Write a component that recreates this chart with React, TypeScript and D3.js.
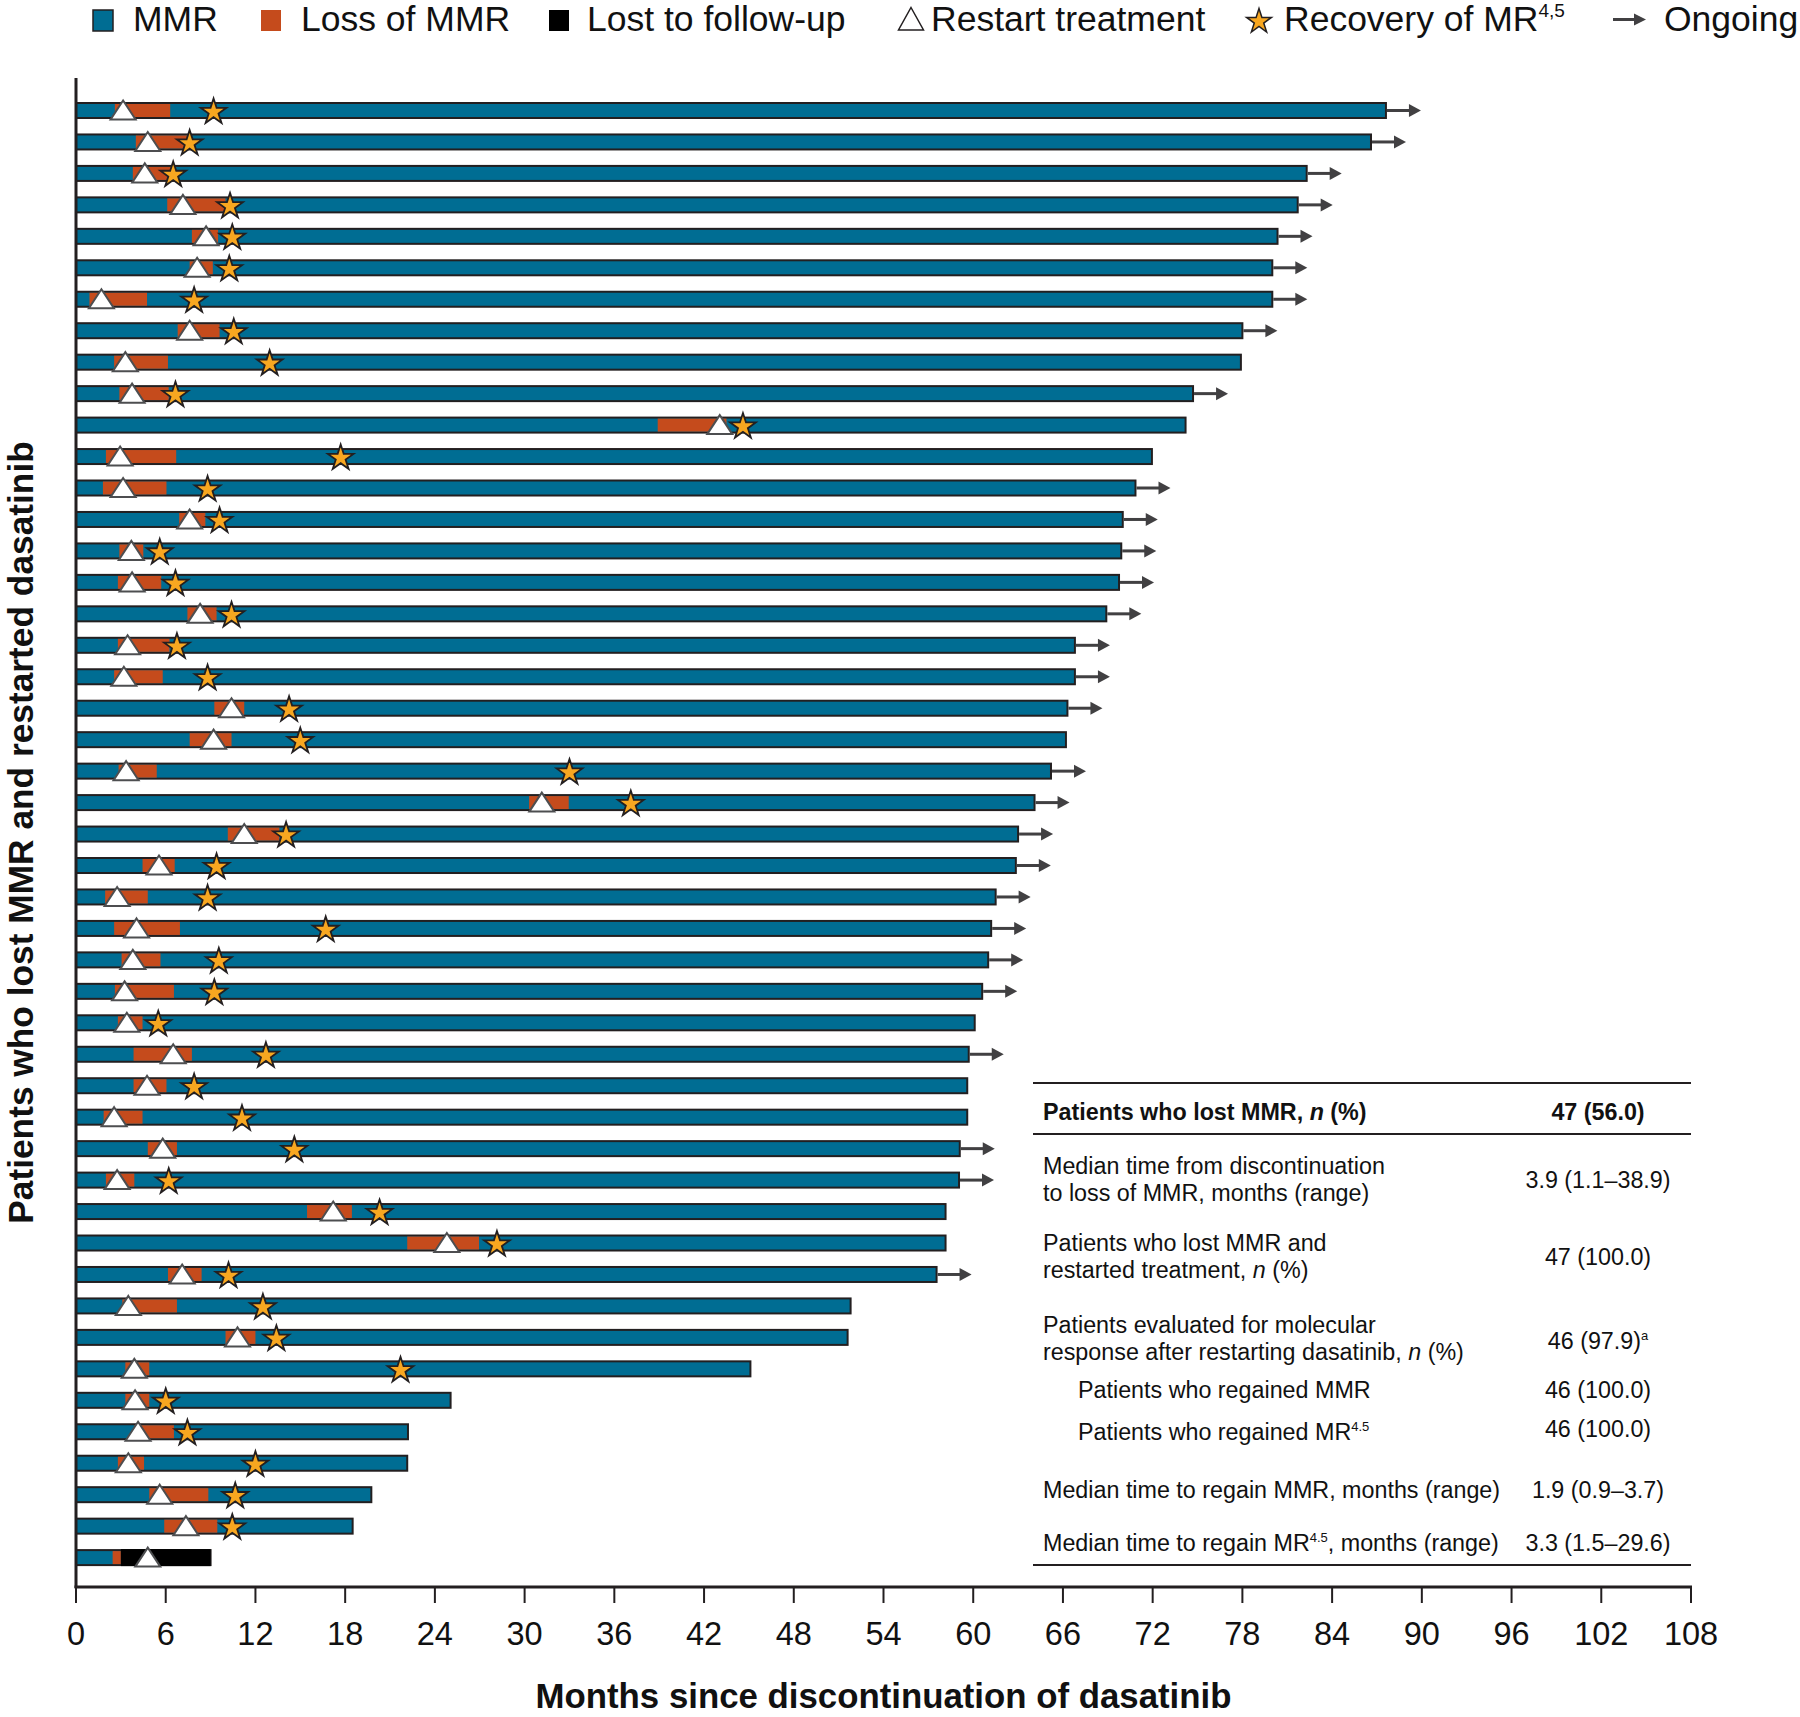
import React from 'react';
import * as d3 from 'd3';

// ---- Data (months since discontinuation), one entry per patient, top to bottom ----
const lossStart = [2.6, 4.0, 3.8, 6.1, 7.75, 7.6, 0.9, 6.8, 2.55, 2.9, 38.9, 2.0, 1.8, 6.9, 2.9, 2.8, 7.45, 2.8, 2.55, 9.25, 7.6, 2.85, 30.3, 10.15, 4.45, 1.95, 2.55, 3.05, 2.6, 2.8, 3.85, 3.85, 1.85, 4.8, 2.0, 15.45, 22.15, 6.15, 3.1, 10.0, 3.3, 3.3, 3.9, 2.8, 4.9, 5.9, 2.45];
const lossEnd = [6.3, 7.5, 6.4, 10.0, 9.5, 9.15, 4.75, 9.6, 6.15, 6.2, 43.5, 6.7, 6.05, 8.65, 4.5, 5.7, 9.4, 6.25, 5.8, 11.25, 10.4, 5.4, 32.95, 13.6, 6.6, 4.8, 6.95, 5.65, 6.55, 4.45, 7.75, 6.05, 4.45, 6.75, 3.9, 18.45, 26.95, 8.4, 6.75, 12.0, 4.9, 4.9, 6.55, 4.55, 8.85, 9.45, 3.0];
const restartAt = [3.15, 4.8, 4.6, 7.15, 8.7, 8.1, 1.7, 7.6, 3.3, 3.75, 43.05, 2.95, 3.15, 7.6, 3.7, 3.75, 8.3, 3.45, 3.2, 10.4, 9.2, 3.35, 31.15, 11.25, 5.55, 2.75, 4.05, 3.8, 3.25, 3.4, 6.5, 4.75, 2.55, 5.8, 2.75, 17.2, 24.8, 7.1, 3.5, 10.8, 3.9, 3.95, 4.15, 3.5, 5.6, 7.35, 4.8];
const recoveryAt: (number | null)[] = [9.2, 7.6, 6.5, 10.3, 10.45, 10.25, 7.9, 10.55, 12.95, 6.65, 44.6, 17.7, 8.8, 9.6, 5.6, 6.65, 10.4, 6.75, 8.8, 14.25, 15.0, 33.0, 37.1, 14.05, 9.4, 8.8, 16.7, 9.55, 9.25, 5.5, 12.7, 7.9, 11.1, 14.6, 6.2, 20.3, 28.15, 10.2, 12.5, 13.4, 21.7, 6.0, 7.45, 12.0, 10.65, 10.45, null];
const barEnd = [87.6, 86.6, 82.3, 81.7, 80.35, 80.0, 80.0, 78.0, 77.9, 74.7, 74.2, 71.95, 70.85, 70.0, 69.9, 69.75, 68.9, 66.8, 66.8, 66.3, 66.2, 65.2, 64.1, 63.0, 62.85, 61.5, 61.2, 61.0, 60.6, 60.1, 59.7, 59.6, 59.6, 59.1, 59.05, 58.15, 58.15, 57.55, 51.8, 51.6, 45.1, 25.05, 22.2, 22.15, 19.75, 18.5, 9.0];
const ongoing = [1, 1, 1, 1, 1, 1, 1, 1, 0, 1, 0, 0, 1, 1, 1, 1, 1, 1, 1, 1, 0, 1, 1, 1, 1, 1, 1, 1, 1, 0, 1, 0, 0, 1, 1, 0, 0, 1, 0, 0, 0, 0, 0, 0, 0, 0, 0];
const lostFollowUpStart: (number | null)[] = [...Array(46).fill(null), 3.0];

const xTicks = [0, 6, 12, 18, 24, 30, 36, 42, 48, 54, 60, 66, 72, 78, 84, 90, 96, 102, 108];

const xTitle = 'Months since discontinuation of dasatinib';
const yTitle = 'Patients who lost MMR and restarted dasatinib';

const COL_MMR = '#006d93';
const COL_LOSS = '#c54b1c';
const COL_LFU = '#000000';
const COL_STAR = '#f8a720';
const COL_LINE = '#231f20';
const COL_ARROW = '#414042';
const FONT = 'Liberation Sans, Arial, Helvetica, sans-serif';

const starPath = d3.symbol().type(d3.symbolStar).size(205)() as string;
const legendStar = d3.symbol().type(d3.symbolStar).size(190)() as string;
const triPath = 'M0,-10L12.5,9L-12.5,9Z';

function Legend() {
  const fs = 35.5;
  const base = 31;
  return (
    <g fontFamily={FONT} fontSize={fs} fill="#111">
      <rect x={93} y={10} width={20} height={21} fill={COL_MMR} stroke={COL_LINE} strokeWidth={1.5} />
      <text x={133} y={base}>MMR</text>
      <rect x={261} y={10} width={20} height={21} fill={COL_LOSS} />
      <text x={301} y={base}>Loss of MMR</text>
      <rect x={549} y={10} width={20} height={21} fill={COL_LFU} />
      <text x={587} y={base}>Lost to follow-up</text>
      <path d="M911,7.5L923.5,30L898.5,30Z" fill="#fff" stroke={COL_LINE} strokeWidth={1.5} />
      <text x={931} y={base}>Restart treatment</text>
      <path d={legendStar} transform="translate(1259,21.5)" fill={COL_STAR} stroke={COL_LINE} strokeWidth={1.5} />
      <text x={1284} y={base}>Recovery of MR<tspan fontSize={19} dy={-14}>4,5</tspan></text>
      <line x1={1613} x2={1636} y1={19.5} y2={19.5} stroke={COL_ARROW} strokeWidth={3} />
      <path d="M1634,13.5L1646,19.5L1634,25.5Z" fill={COL_ARROW} />
      <text x={1664} y={base}>Ongoing</text>
    </g>
  );
}

type Row = { label: React.ReactNode[]; value: React.ReactNode; indent?: boolean; bold?: boolean; ys: number[]; vy: number };

function SummaryTable() {
  const x0 = 1033, x1 = 1691, tx = 1043, vx = 1598;
  const fs = 23.3;
  const it = (s: string) => <tspan fontStyle="italic">{s}</tspan>;
  const rows: Row[] = [
    { label: [<>Patients who lost MMR, {it('n')} (%)</>], value: '47 (56.0)', bold: true, ys: [1120], vy: 1120 },
    { label: ['Median time from discontinuation', 'to loss of MMR, months (range)'], value: '3.9 (1.1–38.9)', ys: [1174, 1201], vy: 1188 },
    { label: ['Patients who lost MMR and', <>restarted treatment, {it('n')} (%)</>], value: '47 (100.0)', ys: [1251, 1278], vy: 1265 },
    { label: ['Patients evaluated for molecular', <>response after restarting dasatinib, {it('n')} (%)</>], value: <>46 (97.9)<tspan fontSize={13} dy={-9}>a</tspan></>, ys: [1333, 1360], vy: 1349 },
    { label: ['Patients who regained MMR'], value: '46 (100.0)', indent: true, ys: [1398], vy: 1398 },
    { label: [<>Patients who regained MR<tspan fontSize={13} dy={-9}>4.5</tspan></>], value: '46 (100.0)', indent: true, ys: [1440], vy: 1437 },
    { label: ['Median time to regain MMR, months (range)'], value: '1.9 (0.9–3.7)', ys: [1498], vy: 1498 },
    { label: [<>Median time to regain MR<tspan fontSize={13} dy={-9}>4.5</tspan><tspan dy={9}>, months (range)</tspan></>], value: '3.3 (1.5–29.6)', ys: [1551], vy: 1551 },
  ];
  return (
    <g fontFamily={FONT} fontSize={fs} fill="#111">
      <line x1={x0} x2={x1} y1={1083} y2={1083} stroke={COL_LINE} strokeWidth={2} />
      <line x1={x0} x2={x1} y1={1134} y2={1134} stroke={COL_LINE} strokeWidth={2} />
      <line x1={x0} x2={x1} y1={1565} y2={1565} stroke={COL_LINE} strokeWidth={2} />
      {rows.map((r, i) => (
        <g key={i} fontWeight={r.bold ? 'bold' : 'normal'}>
          {r.label.map((l, j) => (
            <text key={j} x={r.indent ? 1078 : tx} y={r.ys[j]}>{l}</text>
          ))}
          <text x={vx} y={r.vy} textAnchor="middle">{r.value}</text>
        </g>
      ))}
    </g>
  );
}

export default function App() {
  const W = 1800, H = 1717;
  const x = d3.scaleLinear().domain([0, 108]).range([76, 1691]);
  const y = d3.scaleLinear().domain([0, barEnd.length - 1]).range([110.5, 1557.6]);
  const axisY = 1587;

  return (
    <svg width={W} height={H} viewBox={`0 0 ${W} ${H}`} style={{ position: 'absolute', left: 0, top: 0, background: '#fff' }}>
      <rect width={W} height={H} fill="#fff" />
      <Legend />

      {/* bars */}
      {barEnd.map((end, i) => {
        const cy = y(i);
        const lfu = lostFollowUpStart[i];
        const rec = recoveryAt[i];
        return (
          <g key={i}>
            <rect x={x(0)} y={cy - 7.5} width={x(end) - x(0)} height={15} fill={COL_MMR} stroke={COL_LINE} strokeWidth={2} />
            <rect x={x(lossStart[i])} y={cy - 6.5} width={x(lossEnd[i]) - x(lossStart[i])} height={13} fill={COL_LOSS} />
            {lfu != null && (
              <rect x={x(lfu)} y={cy - 8.5} width={x(end) - x(lfu)} height={17} fill={COL_LFU} />
            )}
            {ongoing[i] ? (
              <g>
                <line x1={x(end) + 1} x2={x(end) + 26} y1={cy} y2={cy} stroke={COL_ARROW} strokeWidth={3} />
                <path d={`M${x(end) + 23},${cy - 6.5}L${x(end) + 35},${cy}L${x(end) + 23},${cy + 6.5}Z`} fill={COL_ARROW} />
              </g>
            ) : null}
            <path d={triPath} transform={`translate(${x(restartAt[i])},${cy})`} fill="#fff" stroke="#4d4e50" strokeWidth={2} />
            {rec != null && (
              <path d={starPath} transform={`translate(${x(rec)},${cy + 1.5})`} fill={COL_STAR} stroke={COL_LINE} strokeWidth={1.8} />
            )}
          </g>
        );
      })}

      {/* axes */}
      <line x1={x(0)} x2={x(0)} y1={78} y2={axisY + 1} stroke={COL_LINE} strokeWidth={3} />
      <line x1={x(0) - 1.5} x2={x(108) + 1} y1={axisY} y2={axisY} stroke={COL_LINE} strokeWidth={3} />
      {xTicks.map((t) => (
        <g key={t}>
          <line x1={x(t)} x2={x(t)} y1={axisY} y2={axisY + 16} stroke={COL_LINE} strokeWidth={2} />
          <text x={x(t)} y={1645} textAnchor="middle" fontFamily={FONT} fontSize={32.5} fill="#111">{t}</text>
        </g>
      ))}
      <text x={(x(0) + x(108)) / 2} y={1708} textAnchor="middle" fontFamily={FONT} fontSize={34.8} fontWeight="bold" fill="#111">{xTitle}</text>
      <text transform={`translate(33,${(78 + axisY) / 2}) rotate(-90)`} textAnchor="middle" fontFamily={FONT} fontSize={35.3} fontWeight="bold" fill="#111">{yTitle}</text>

      <SummaryTable />
    </svg>
  );
}
